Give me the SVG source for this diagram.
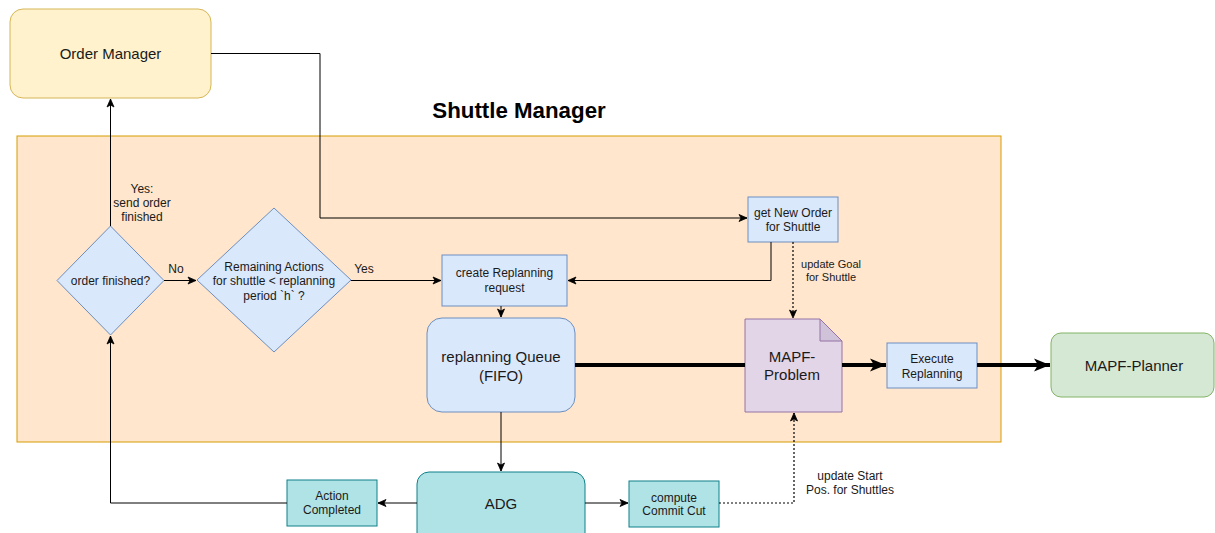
<svg xmlns="http://www.w3.org/2000/svg" width="1215" height="533" viewBox="0 0 1215 533">
  <style>
    text { font-family: "Liberation Sans", Arial, sans-serif; fill: #1a1a1a; text-anchor: middle; }
    .t12 { font-size: 12px; }
    .t11 { font-size: 11px; }
    .t15 { font-size: 15px; }
    .title { font-size: 22.3px; font-weight: bold; fill: #000; }
    .blue { fill: #dae8fc; stroke: #6c8ebf; stroke-width: 1; }
    .teal { fill: #b0e3e6; stroke: #0e8088; stroke-width: 1; }
    .edge { fill: none; stroke: #000; stroke-width: 1; }
    .thick { fill: none; stroke: #000; stroke-width: 4; }
    .dot { fill: none; stroke: #000; stroke-width: 1.2; stroke-dasharray: 2 2; }
  </style>
  <defs>
    <marker id="arr" markerUnits="userSpaceOnUse" markerWidth="10" markerHeight="10" viewBox="0 0 10 10" refX="9" refY="5" orient="auto">
      <path d="M1,1.5 L9,5 L1,8.5 L3,5 z" fill="#000" stroke="#000" stroke-width="0.8"/>
    </marker>
    <marker id="arrBig" markerUnits="userSpaceOnUse" markerWidth="18" markerHeight="16" viewBox="0 0 18 16" refX="17" refY="8" orient="auto">
      <path d="M1,1.5 L17,8 L1,14.5 L5,8 z" fill="#000"/>
    </marker>
  </defs>

  <!-- Shuttle Manager container -->
  <g id="shuttle-manager">
    <rect x="17" y="136" width="984" height="306" fill="#ffe6cc" stroke="#d79b00" stroke-width="1"/>
    <text class="title" x="519" y="118">Shuttle Manager</text>
  </g>

  <g id="order-manager">
    <rect x="10" y="9" width="201" height="89" rx="13" fill="#fff2cc" stroke="#d6b656"/>
    <text class="t15" x="110.5" y="59">Order Manager</text>
  </g>

  <g id="order-finished">
    <polygon class="blue" points="110.5,226 164,280.5 110.5,335 57,280.5"/>
    <text class="t12" x="110.5" y="285">order finished?</text>
  </g>

  <g id="remaining-actions">
    <polygon class="blue" points="274,208 351,280 274,352 197,280"/>
    <text class="t12" x="274" y="271">Remaining Actions</text>
    <text class="t12" x="274" y="285">for shuttle &lt; replanning</text>
    <text class="t12" x="274" y="300">period `h` ?</text>
  </g>

  <g id="create-replanning">
    <rect class="blue" x="442" y="255" width="125" height="51"/>
    <text class="t12" x="504.5" y="277">create Replanning</text>
    <text class="t12" x="504.5" y="292">request</text>
  </g>

  <g id="get-new-order">
    <rect class="blue" x="748" y="197" width="90" height="45"/>
    <text class="t12" x="793" y="217">get New Order</text>
    <text class="t12" x="793" y="231">for Shuttle</text>
  </g>

  <g id="replanning-queue">
    <rect class="blue" x="427" y="318" width="148" height="94" rx="15"/>
    <text class="t15" x="501" y="362">replanning Queue</text>
    <text class="t15" x="501" y="381">(FIFO)</text>
  </g>

  <g id="mapf-problem">
    <path d="M745,319 H820 L842,341 V412 H745 Z" fill="#e1d5e7" stroke="#9673a6"/>
    <path d="M820,319 V341 H842 Z" fill="#d0c2d8" stroke="#9673a6"/>
    <text class="t15" x="792" y="362">MAPF-</text>
    <text class="t15" x="792" y="380">Problem</text>
  </g>

  <g id="execute-replanning">
    <rect class="blue" x="887" y="343" width="90" height="45"/>
    <text class="t12" x="932" y="363">Execute</text>
    <text class="t12" x="932" y="377.5">Replanning</text>
  </g>

  <g id="mapf-planner">
    <rect x="1051" y="333" width="163" height="64" rx="10" fill="#d5e8d4" stroke="#82b366"/>
    <text class="t15" x="1134" y="371">MAPF-Planner</text>
  </g>

  <g id="adg">
    <rect class="teal" x="417" y="472" width="168" height="75" rx="12"/>
    <text class="t15" x="501" y="509">ADG</text>
  </g>

  <g id="action-completed">
    <rect class="teal" x="287" y="480" width="90" height="46"/>
    <text class="t12" x="332" y="500">Action</text>
    <text class="t12" x="332" y="514">Completed</text>
  </g>

  <g id="commit-cut">
    <rect class="teal" x="629" y="481" width="90" height="46"/>
    <text class="t12" x="674" y="501.5">compute</text>
    <text class="t12" x="674" y="515">Commit Cut</text>
  </g>

  <!-- connectors -->
  <g id="connectors">
    <path class="edge" d="M211,53.5 H320 V218 H747" marker-end="url(#arr)"/>
    <path class="edge" d="M110.5,226 V99" marker-end="url(#arr)"/>
    <path class="edge" d="M164,280.5 H196" marker-end="url(#arr)"/>
    <path class="edge" d="M351,280.5 H441" marker-end="url(#arr)"/>
    <path class="edge" d="M771,242 V280.5 H568" marker-end="url(#arr)"/>
    <path class="dot" d="M793,242 V318" marker-end="url(#arr)"/>
    <path class="edge" d="M501,306 V317" marker-end="url(#arr)"/>
    <path class="thick" d="M575,365 H745"/>
    <path class="thick" d="M842,365 H886" marker-end="url(#arrBig)"/>
    <path class="thick" d="M977,365 H1050" marker-end="url(#arrBig)"/>
    <path class="edge" d="M501,412 V471" marker-end="url(#arr)"/>
    <path class="edge" d="M417,503 H378" marker-end="url(#arr)"/>
    <path class="edge" d="M585,503 H628" marker-end="url(#arr)"/>
    <path class="dot" d="M719,503 H794 V413" marker-end="url(#arr)"/>
    <path class="edge" d="M287,503 H110.5 V336" marker-end="url(#arr)"/>
  </g>

  <!-- edge labels -->
  <g id="labels">
    <text class="t12" x="142" y="193">Yes:</text>
    <text class="t12" x="142" y="207">send order</text>
    <text class="t12" x="142" y="221">finished</text>
    <text class="t12" x="176" y="273">No</text>
    <text class="t12" x="364" y="273">Yes</text>
    <text class="t11" x="831" y="268">update Goal</text>
    <text class="t11" x="831" y="281">for Shuttle</text>
    <text class="t12" x="850" y="480">update Start</text>
    <text class="t12" x="850" y="494">Pos. for Shuttles</text>
  </g>
</svg>
